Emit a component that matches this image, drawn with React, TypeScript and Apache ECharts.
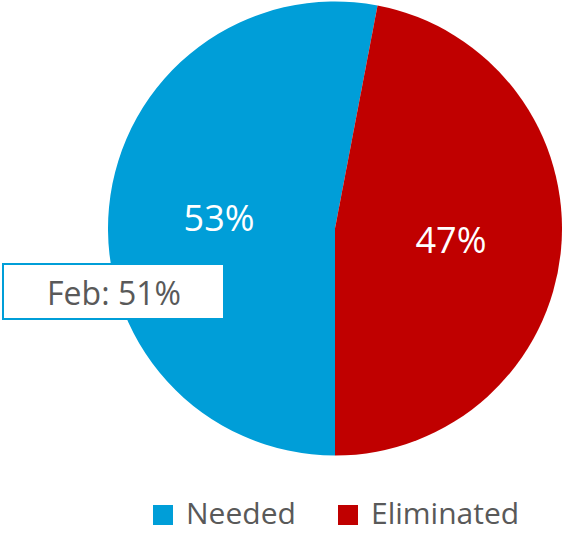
import React, { useEffect, useRef } from "react";
import * as echarts from "echarts";

const categories = ["Needed", "Eliminated"];
const values = [53, 47];
const colors = ["#009ED8", "#C00000"];
const febLabel = "Feb: 51%";

// legend layout (pixels)
const legendIconX = [153, 338];
const legendIconY = 505;
const legendIconSize = 20;
const legendTextGap = 13;
const legendTextY = 512;

export default function App() {
  const ref = useRef<HTMLDivElement>(null);
  useEffect(() => {
    document.body.style.margin = "0";
    const chart = echarts.init(ref.current!, null, { renderer: "svg" });
    const legendGraphics: any[] = [];
    categories.forEach((c, i) => {
      legendGraphics.push({
        type: "rect",
        shape: {
          x: legendIconX[i],
          y: legendIconY,
          width: legendIconSize,
          height: legendIconSize,
        },
        style: { fill: colors[i] },
      });
      legendGraphics.push({
        type: "text",
        x: legendIconX[i] + legendIconSize + legendTextGap,
        y: legendTextY,
        style: {
          text: c,
          fontFamily: "Open Sans",
          fontSize: 30,
          fill: "#595959",
          align: "left",
          verticalAlign: "middle",
        },
      });
    });
    chart.setOption({
      animation: false,
      textStyle: { fontFamily: "Open Sans" },
      series: [
        {
          type: "pie",
          center: [335, 228.5],
          radius: 227,
          startAngle: 270,
          clockwise: true,
          silent: true,
          emphasis: { disabled: true },
          label: {
            show: true,
            position: "inside",
            formatter: (p: any) => p.value + "%",
            color: "#ffffff",
            fontSize: 36,
            fontFamily: "Open Sans",
          },
          labelLine: { show: false },
          itemStyle: { borderWidth: 0 },
          data: categories.map((c, i) => ({
            name: c,
            value: values[i],
            itemStyle: { color: colors[i] },
          })),
        },
      ],
      graphic: [
        {
          type: "rect",
          shape: { x: 3, y: 264, width: 221, height: 55 },
          style: { fill: "#ffffff", stroke: "#009ED8", lineWidth: 2 },
          z: 100,
        },
        {
          type: "text",
          x: 114,
          y: 292,
          style: {
            text: febLabel,
            fontFamily: "Open Sans",
            fontSize: 32,
            fill: "#595959",
            align: "center",
            verticalAlign: "middle",
          },
          z: 101,
        },
        ...legendGraphics,
      ],
    });
    return () => chart.dispose();
  }, []);
  return <div ref={ref} style={{ width: 562, height: 533 }} />;
}
